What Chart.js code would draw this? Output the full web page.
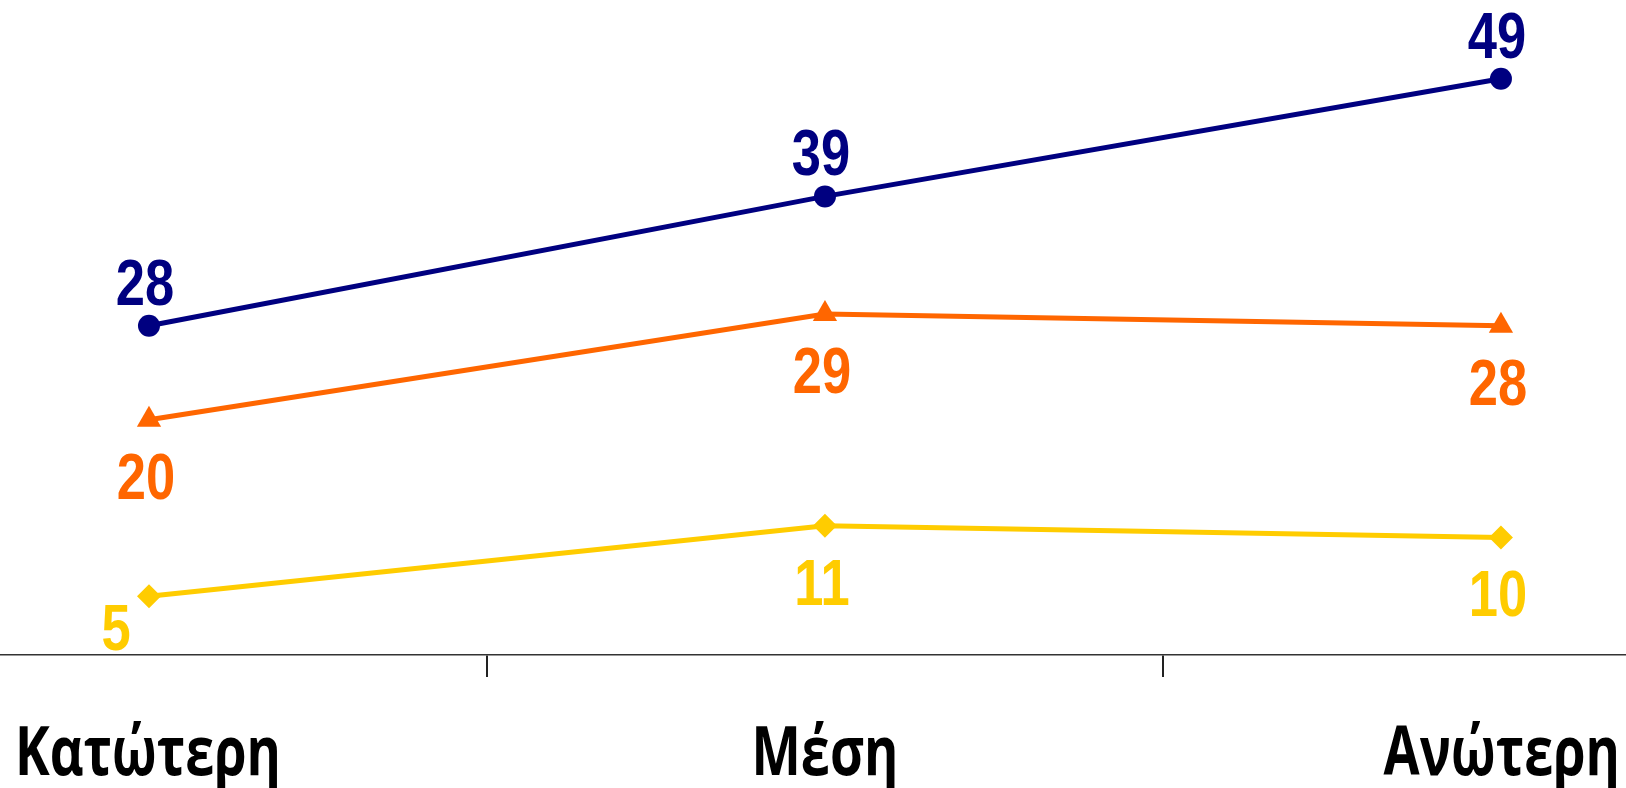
<!DOCTYPE html>
<html><head><meta charset="utf-8">
<script src="https://cdn.jsdelivr.net/npm/chart.js@4.4.0/dist/chart.umd.min.js"></script>
<style>html,body{margin:0;padding:0;background:#fff;overflow:hidden}#wrap{width:1626px;height:788px;position:relative}</style>
</head><body><div id="wrap"><canvas id="c"></canvas></div>
<script>
const categories = ['Κατώτερη', 'Μέση', 'Ανώτερη'];
const seriesBlue = [28, 39, 49];
const seriesOrange = [20, 29, 28];
const seriesYellow = [5, 11, 10];
const yMax = 55.7;

const NUM_FONT = "bold 64px 'Liberation Sans', Arial, sans-serif";
const NUM_SX = 0.82;
const CAT_FONT = "bold 68px 'Open Sans', 'Noto Sans', sans-serif";
const CAT_SX = 0.77;

function pts(arr){ return arr.map((v,i)=>({x:i, y:v})); }

function drawText(ctx, text, x, y, align, sx){
  ctx.save();
  ctx.translate(x, y);
  ctx.scale(sx, 1);
  ctx.textAlign = align;
  ctx.textBaseline = 'alphabetic';
  ctx.fillText(text, 0, 0);
  ctx.restore();
}

const valueLabels = {
  id: 'valueLabels',
  afterDatasetsDraw(chart){
    const ctx = chart.ctx;
    ctx.save();
    ctx.font = NUM_FONT;
    chart.data.datasets.forEach((ds, di) => {
      const meta = chart.getDatasetMeta(di);
      meta.data.forEach((pt, i) => {
        const pos = ds.labelPos[i];
        let x = pt.x, y = pt.y;
        if (pos === 'above') { x -= 4; y -= 21; }
        else if (pos === 'below') { x -= 3; y += 79; }
        else if (pos === 'belowLeft') { x -= 33; y += 54; }
        ctx.fillStyle = ds.borderColor;
        drawText(ctx, String(ds.data[i].y), x, y, 'center', NUM_SX);
      });
    });
    ctx.restore();
  }
};

const categoryLabels = {
  id: 'categoryLabels',
  afterDraw(chart){
    const ctx = chart.ctx;
    const xs = chart.scales.x;
    ctx.save();
    ctx.font = CAT_FONT;
    ctx.fillStyle = '#000';
    const base = chart.chartArea.bottom + 120;
    categories.forEach((c, i) => {
      if (i === 0) drawText(ctx, c, chart.chartArea.left + 15, base, 'left', CAT_SX);
      else if (i === categories.length - 1) drawText(ctx, c, chart.chartArea.right - 6, base, 'right', CAT_SX);
      else drawText(ctx, c, xs.getPixelForValue(i), base, 'center', CAT_SX);
    });
    ctx.restore();
  }
};

new Chart(document.getElementById('c'), {
  type: 'line',
  data: {
    datasets: [
      { data: pts(seriesBlue), borderColor: '#000080', backgroundColor: '#000080', borderWidth: 5,
        pointStyle: 'circle', pointRadius: 11, pointBorderWidth: 0, labelPos: ['above','above','above'] },
      { data: pts(seriesOrange), borderColor: '#FF6600', backgroundColor: '#FF6600', borderWidth: 5,
        pointStyle: 'triangle', pointRadius: 14, pointBorderWidth: 0, labelPos: ['below','below','below'] },
      { data: pts(seriesYellow), borderColor: '#FFCC00', backgroundColor: '#FFCC00', borderWidth: 5,
        pointStyle: 'rectRot', pointRadius: 12, pointBorderWidth: 0, labelPos: ['belowLeft','below','below'] }
    ]
  },
  options: {
    responsive: true, maintainAspectRatio: false, animation: false,
    layout: { padding: 0, autoPadding: false },
    plugins: { legend: { display: false }, tooltip: { enabled: false } },
    elements: { line: { tension: 0 } },
    datasets: { line: { clip: false } },
    scales: {
      x: {
        type: 'linear', min: -0.2204, max: 2.185,
        afterBuildTicks: s => { s.ticks = [{value: 0.5}, {value: 1.5}]; },
        afterFit: s => { s.height = 133; },
        grid: { drawOnChartArea: false, drawTicks: true, tickLength: 22, color: '#222', lineWidth: 2 },
        border: { display: true, color: '#333', width: 1.5 },
        ticks: { display: false }
      },
      y: { display: false, min: 0, max: yMax }
    }
  },
  plugins: [valueLabels, categoryLabels]
});
</script>
</body></html>
